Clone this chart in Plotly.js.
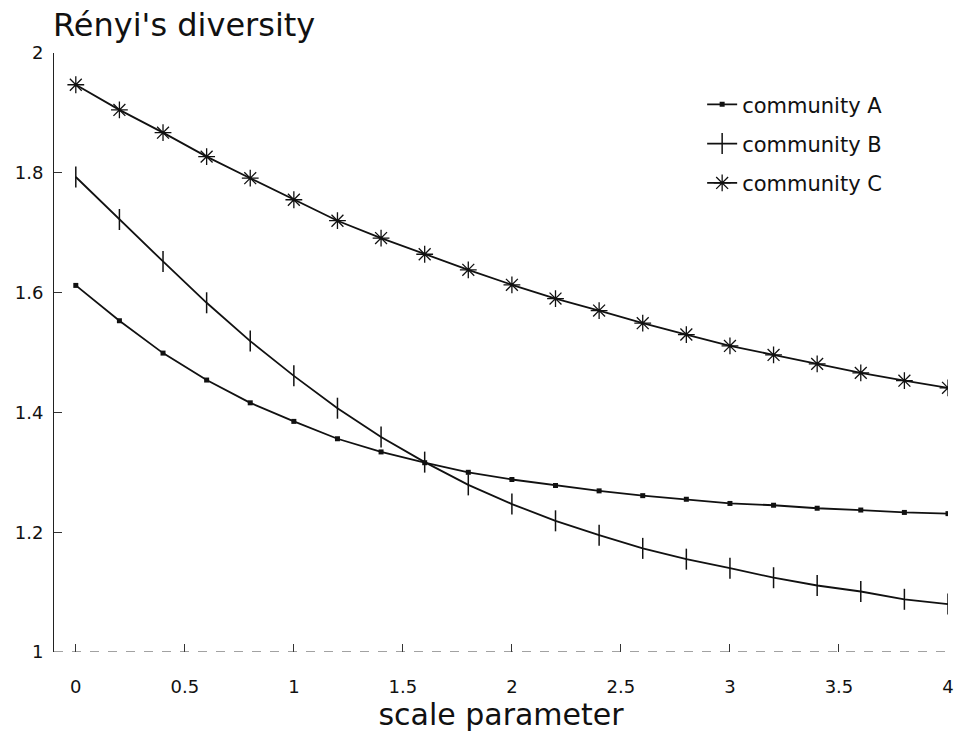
<!DOCTYPE html>
<html>
<head>
<meta charset="utf-8">
<script src="https://cdn.plot.ly/plotly-3.0.1.min.js"></script>
<style>
html, body { margin: 0; padding: 0; background: #fff; }
#chart { width: 957px; height: 734px; }
</style>
</head>
<body>
<div id="chart"></div>
<script>
// scale parameter values
const scaleParam = [0, 0.2, 0.4, 0.6, 0.8, 1.0, 1.2, 1.4, 1.6, 1.8, 2.0, 2.2, 2.4, 2.6, 2.8, 3.0, 3.2, 3.4, 3.6, 3.8, 4.0];
// Rényi's diversity per community
const communityA = [1.612, 1.553, 1.499, 1.454, 1.416, 1.385, 1.356, 1.334, 1.316, 1.300, 1.288, 1.278, 1.269, 1.261, 1.255, 1.248, 1.245, 1.240, 1.237, 1.233, 1.231];
const communityB = [1.793, 1.722, 1.652, 1.583, 1.519, 1.461, 1.407, 1.359, 1.317, 1.279, 1.247, 1.219, 1.195, 1.173, 1.155, 1.140, 1.124, 1.111, 1.101, 1.088, 1.080];
const communityC = [1.947, 1.905, 1.867, 1.827, 1.791, 1.755, 1.720, 1.691, 1.664, 1.638, 1.613, 1.590, 1.570, 1.549, 1.530, 1.511, 1.496, 1.481, 1.466, 1.453, 1.441];
const seriesNames = ["community A", "community B", "community C"];
const xTickVals = [0, 0.5, 1, 1.5, 2, 2.5, 3, 3.5, 4];
const xTickText = ["0", "0.5", "1", "1.5", "2", "2.5", "3", "3.5", "4"];
const yTickVals = [1, 1.2, 1.4, 1.6, 1.8, 2];
const yTickText = ["1", "1.2", "1.4", "1.6", "1.8", "2"];

const FONT = "DejaVu Sans, Liberation Sans, Arial, sans-serif";
const ink = "#111";

const traces = [
  {
    x: scaleParam, y: communityA, name: seriesNames[0], legendgroup: "a",
    type: "scatter", mode: "lines+markers",
    line: { color: ink, width: 1.8 },
    marker: { symbol: "square", size: 5, color: ink }
  },
  {
    x: scaleParam, y: communityB, name: seriesNames[1], legendgroup: "b",
    type: "scatter", mode: "lines+markers",
    line: { color: ink, width: 1.8 },
    marker: { symbol: "line-ns-open", size: 15, color: ink, line: { width: 1.5, color: ink } }
  },
  {
    x: scaleParam, y: communityC, name: seriesNames[2], legendgroup: "c",
    type: "scatter", mode: "lines+markers",
    line: { color: ink, width: 1.8 },
    marker: { symbol: "asterisk-open", size: 14, color: ink, line: { width: 1.3, color: ink } }
  }
];

const layout = {
  width: 957, height: 734,
  paper_bgcolor: "#fff", plot_bgcolor: "#fff",
  margin: { l: 54, r: 9, t: 53, b: 82 },
  font: { family: FONT, color: ink },
  showlegend: true,
  title: {
    text: "Rényi's diversity",
    font: { family: FONT, size: 32, color: ink },
    x: 53 / 957, xref: "container", xanchor: "left",
    y: 1 - 25 / 734, yref: "container", yanchor: "middle"
  },
  xaxis: {
    range: [-0.1, 4],
    tickmode: "array", tickvals: xTickVals, ticktext: xTickText,
    ticks: "inside", ticklen: 8, tickwidth: 1, tickcolor: "#333",
    showline: false, showgrid: false, zeroline: false,
    tickfont: { family: FONT, size: 18, color: ink },
    ticklabelstandoff: 22,
    title: { text: "scale parameter", font: { family: FONT, size: 30, color: ink }, standoff: 2 }
  },
  yaxis: {
    range: [1, 2],
    tickmode: "array", tickvals: yTickVals, ticktext: yTickText,
    ticks: "inside", ticklen: 8, tickwidth: 1, tickcolor: "#333",
    showline: true, linecolor: "#222", linewidth: 1,
    showgrid: false, zeroline: false,
    tickfont: { family: FONT, size: 18, color: ink },
    ticklabelstandoff: 6
  },
  legend: {
    x: 0.725, y: 0.948, xanchor: "left", yanchor: "top",
    bgcolor: "rgba(0,0,0,0)", borderwidth: 0,
    font: { family: FONT, size: 21, color: ink },
    traceorder: "grouped", tracegroupgap: 9
  },
  shapes: [
    {
      type: "line", xref: "paper", yref: "y", x0: 0, x1: 1, y0: 1, y1: 1,
      line: { color: "#444", width: 1, dash: "dash" }
    }
  ]
};

Plotly.newPlot("chart", traces, layout, { staticPlot: true, displayModeBar: false });
</script>
</body>
</html>
